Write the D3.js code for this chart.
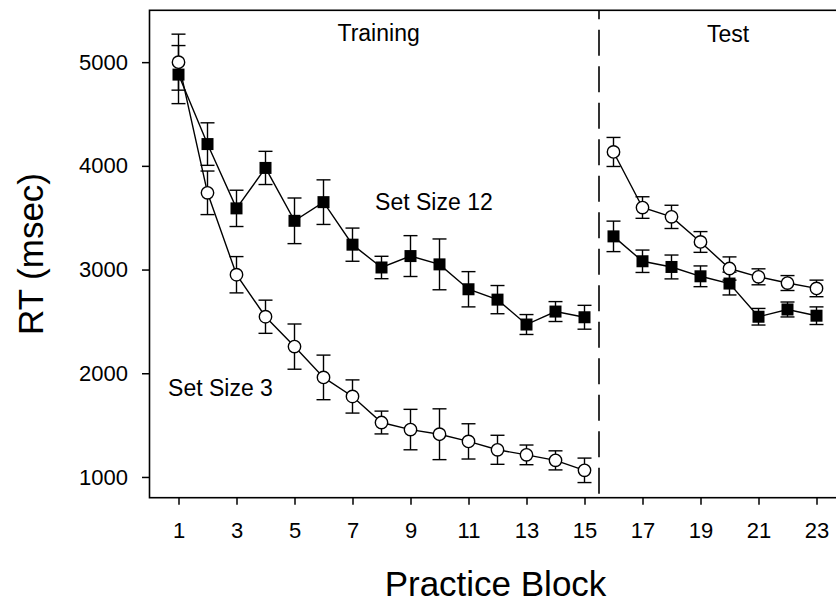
<!DOCTYPE html>
<html lang="en">
<head>
  <meta charset="UTF-8">
  <title>RT by Practice Block</title>
  <script src="https://d3js.org/d3.v7.min.js"></script>
  <style>
    body {
      margin: 0;
      padding: 0;
      background: #fff;
    }
    svg text {
      font-family: "Liberation Sans", Arial, sans-serif;
      fill: #000;
    }
  </style>
</head>
<body>
  <div id="chart"></div>

  <script>
  // practice blocks (1-15 training, 16-23 test)
  const blocks = [1, 2, 3, 4, 5, 6, 7, 8, 9, 10, 11, 12, 13, 14, 15, 16, 17, 18, 19, 20, 21, 22, 23];
  const trainingBlocks = 15;

  // Set Size 12 (filled squares)
  const setSize12 = [4880, 4210, 3590, 3980, 3470, 3650, 3240, 3020, 3130, 3050, 2810, 2710, 2470, 2595, 2540,
                     3320, 3080, 3025, 2935, 2865, 2545, 2615, 2555];
  const setSize12Err = [280, 205, 175, 160, 220, 215, 160, 108, 197, 245, 170, 136, 96, 96, 115,
                        147, 108, 115, 100, 110, 80, 72, 85];

  // Set Size 3 (open circles)
  const setSize3 = [5000, 3740, 2950, 2545, 2257, 1960, 1776, 1525, 1457, 1412, 1343, 1262, 1213, 1160, 1064,
                    4134, 3598, 3508, 3266, 3010, 2930, 2870, 2818];
  const setSize3Err = [270, 210, 175, 160, 218, 215, 160, 110, 195, 245, 170, 140, 95, 92, 118,
                       140, 104, 112, 100, 112, 77, 72, 80];

  const xTicks = [1, 3, 5, 7, 9, 11, 13, 15, 17, 19, 21, 23];
  const yTicks = [1000, 2000, 3000, 4000, 5000];

  const width = 836, height = 605;
  const plotLeft = 149.5, plotTop = 10.3, plotBottom = 497.7, plotRight = 845.5;

  const svg = d3.select("#chart").append("svg")
    .attr("width", width)
    .attr("height", height);

  const x = d3.scaleLinear().domain([0, 24]).range([plotLeft, plotRight]);
  const y = d3.scaleLinear().domain([800, 5500]).range([plotBottom, plotTop]);

  // axes
  const yAxis = svg.append("g")
    .attr("transform", `translate(${plotLeft},0)`)
    .call(d3.axisLeft(y).tickValues(yTicks).tickFormat(d3.format("d")).tickSize(7.5).tickPadding(14));
  const xAxis = svg.append("g")
    .attr("transform", `translate(0,${plotBottom})`)
    .call(d3.axisBottom(x).tickValues(xTicks).tickSize(7).tickPadding(18));

  [xAxis, yAxis].forEach(ax => {
    ax.select(".domain").remove();
    ax.selectAll(".tick line").attr("stroke", "#000").attr("stroke-width", 1.5);
    ax.selectAll(".tick text")
      .style("font-size", "22px")
      .style("font-family", "'Liberation Sans', Arial, sans-serif");
  });

  // frame (right side runs off the page)
  svg.append("rect")
    .attr("x", plotLeft).attr("y", plotTop)
    .attr("width", plotRight - plotLeft).attr("height", plotBottom - plotTop)
    .attr("fill", "none").attr("stroke", "#000").attr("stroke-width", 1.6);

  // training / test divider
  svg.append("line")
    .attr("x1", x(trainingBlocks + 0.5)).attr("x2", x(trainingBlocks + 0.5))
    .attr("y1", plotTop).attr("y2", plotBottom)
    .attr("stroke", "#000").attr("stroke-width", 1.6)
    .attr("stroke-dasharray", "26,10.5")
    .attr("stroke-dashoffset", 17);

  const series = [
    { name: "12", values: setSize12, err: setSize12Err, shape: "square" },
    { name: "3", values: setSize3, err: setSize3Err, shape: "circle" }
  ];

  const rows = s => blocks.map((b, i) => ({ block: b, v: s.values[i], e: s.err[i] }));
  const line = d3.line().x(d => x(d.block)).y(d => y(d.v));

  // error bars
  series.forEach(s => {
    const g = svg.append("g").attr("stroke", "#000").attr("stroke-width", 1.4);
    const data = rows(s);
    g.selectAll(".stem").data(data).enter().append("line")
      .attr("x1", d => x(d.block)).attr("x2", d => x(d.block))
      .attr("y1", d => y(d.v - d.e)).attr("y2", d => y(d.v + d.e));
    g.selectAll(".capHi").data(data).enter().append("line")
      .attr("x1", d => x(d.block) - 7).attr("x2", d => x(d.block) + 7)
      .attr("y1", d => y(d.v + d.e)).attr("y2", d => y(d.v + d.e));
    g.selectAll(".capLo").data(data).enter().append("line")
      .attr("x1", d => x(d.block) - 7).attr("x2", d => x(d.block) + 7)
      .attr("y1", d => y(d.v - d.e)).attr("y2", d => y(d.v - d.e));
  });

  // connecting lines, training and test drawn separately
  series.forEach(s => {
    const data = rows(s);
    [data.filter(d => d.block <= trainingBlocks), data.filter(d => d.block > trainingBlocks)].forEach(part => {
      svg.append("path")
        .datum(part)
        .attr("d", line)
        .attr("fill", "none")
        .attr("stroke", "#000")
        .attr("stroke-width", 1.4);
    });
  });

  // markers
  series.forEach(s => {
    const data = rows(s);
    if (s.shape === "square") {
      svg.append("g").selectAll("rect").data(data).enter().append("rect")
        .attr("x", d => x(d.block) - 6).attr("y", d => y(d.v) - 6)
        .attr("width", 12).attr("height", 12)
        .attr("fill", "#000");
    } else {
      svg.append("g").selectAll("circle").data(data).enter().append("circle")
        .attr("cx", d => x(d.block)).attr("cy", d => y(d.v))
        .attr("r", 6.2)
        .attr("fill", "#fff").attr("stroke", "#000").attr("stroke-width", 1.4);
    }
  });

  // annotations
  svg.append("text").attr("x", x(7.9)).attr("y", 41)
    .attr("text-anchor", "middle").style("font-size", "23px").text("Training");
  svg.append("text").attr("x", x(19.95)).attr("y", 42)
    .attr("text-anchor", "middle").style("font-size", "23px").text("Test");
  svg.append("text").attr("x", x(7.78)).attr("y", y(3570))
    .style("font-size", "23px").text("Set Size 12");
  svg.append("text").attr("x", x(0.64)).attr("y", y(1776))
    .style("font-size", "23px").text("Set Size 3");

  // axis titles
  svg.append("text")
    .attr("transform", "translate(43,254) rotate(-90)")
    .attr("text-anchor", "middle")
    .style("font-size", "35px")
    .text("RT (msec)");
  svg.append("text")
    .attr("x", 495.5).attr("y", 596)
    .attr("text-anchor", "middle")
    .style("font-size", "35px")
    .text("Practice Block");
  </script>
</body>
</html>
